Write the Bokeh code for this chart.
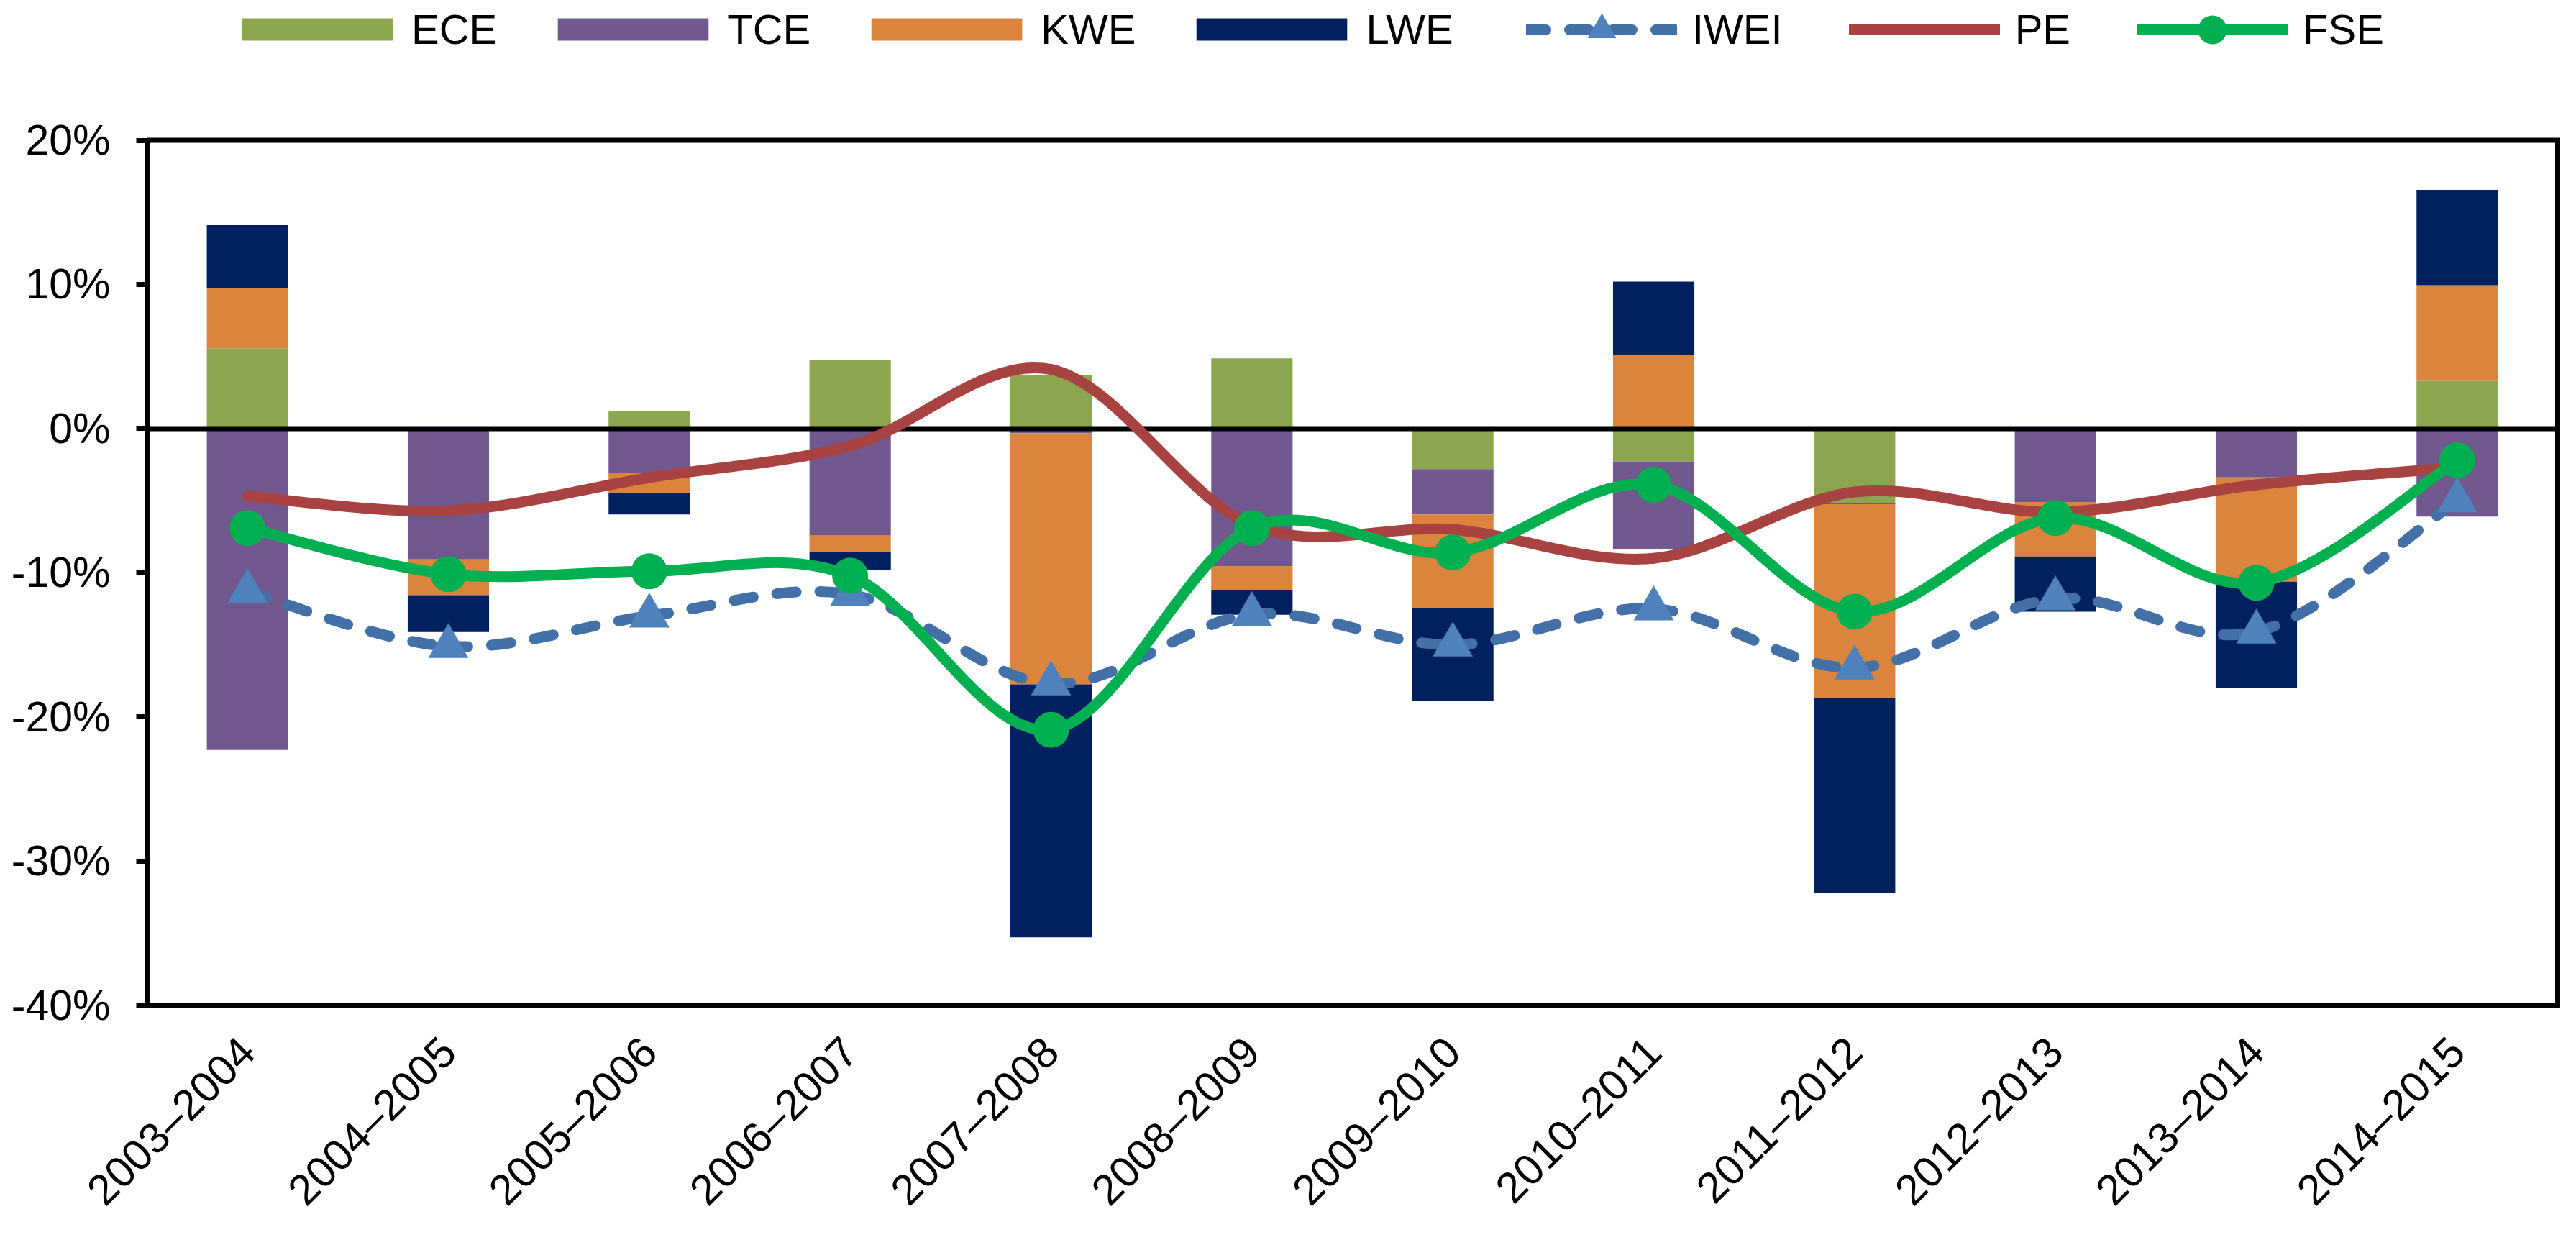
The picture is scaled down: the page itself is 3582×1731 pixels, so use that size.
import numpy as np
from math import pi
from bokeh.plotting import figure
from bokeh.models import (ColumnDataSource, Range1d, FixedTicker, PrintfTickFormatter,
                          Legend, LegendItem)
from bokeh.embed import file_html
from bokeh.resources import INLINE

# data (percent)
periods = ["2003–2004", "2004–2005", "2005–2006", "2006–2007", "2007–2008", "2008–2009",
           "2009–2010", "2010–2011", "2011–2012", "2012–2013", "2013–2014", "2014–2015"]
ece = [5.57, 0.0, 1.24, 4.75, 3.72, 4.87, -2.81, -2.27, -5.14, 0.0, 0.0, 3.30]
tce = [-22.3, -9.08, -3.10, -7.39, -0.33, -9.54, -3.14, -6.11, -0.10, -5.09, -3.39, -6.11]
kwe = [4.21, -2.48, -1.40, -1.16, -17.42, -1.69, -6.48, 5.08, -13.46, -3.78, -7.23, 6.65]
lwe = [4.34, -2.56, -1.45, -1.24, -17.55, -1.69, -6.44, 5.12, -13.50, -3.83, -7.35, 6.61]
iwei = [-11.3, -15.1, -13.0, -11.5, -17.7, -12.9, -15.0, -12.5, -16.6, -11.8, -14.1, -5.0]
pe = [-4.7, -5.7, -3.4, -1.2, 4.1, -6.7, -7.0, -9.0, -4.4, -5.8, -3.9, -2.7]
fse = [-6.9, -10.1, -9.9, -10.2, -20.9, -6.9, -8.6, -3.9, -12.7, -6.2, -10.7, -2.2]
y_ticks = [-40, -30, -20, -10, 0, 10, 20]

xs = np.arange(1, len(periods) + 1)
FONT = "Liberation Sans"

# layout in pixels: the plot box is 3352 x 1205, the legend sits in the frame above it
W, H = 3566, 1715
box_left, box_right, box_top, box_bottom = 204, 3556, 195, 1400
pad = 5
x_lo, x_hi = 0.5, len(periods) + 0.5
y_lo, y_hi = y_ticks[0], y_ticks[-1]
ppx = (box_right - box_left) / (x_hi - x_lo)
ppy = (box_bottom - box_top) / (y_hi - y_lo)

p = figure(width=W, height=H,
           x_range=Range1d(x_lo, x_hi + pad / ppx),
           y_range=Range1d(y_lo - pad / ppy, y_hi + box_top / ppy),
           output_backend="svg", toolbar_location=None,
           min_border_left=box_left, min_border_right=W - box_right - pad,
           min_border_top=0, min_border_bottom=H - box_bottom - pad)
p.outline_line_color = None
p.xgrid.visible = False
p.ygrid.visible = False
p.background_fill_color = "white"
p.border_fill_color = "white"

# stacked bars, positives and negatives stacked separately (like Excel)
pos = np.zeros(len(xs))
neg = np.zeros(len(xs))
bar_items = []
for name, vals, color in [("ECE", ece, "#8BA64E"), ("TCE", tce, "#71588F"),
                          ("KWE", kwe, "#DB843D"), ("LWE", lwe, "#00205F")]:
    v = np.array(vals)
    bottom = np.where(v >= 0, pos, neg)
    top = bottom + v
    pos = np.where(v >= 0, top, pos)
    neg = np.where(v < 0, top, neg)
    src = ColumnDataSource(dict(x=xs, top=top, bottom=bottom))
    r = p.vbar(x="x", width=0.405, top="top", bottom="bottom", source=src,
               fill_color=color, line_color=None)
    bar_items.append(LegendItem(label=name, renderers=[r]))

# plot area border (top, right, bottom); the y axis gives the left side
p.line([x_lo, x_hi, x_hi, x_lo], [y_hi, y_hi, y_lo, y_lo], line_color="black",
       line_width=7, line_join="miter")
p.line([x_lo, x_hi], [0, 0], line_color="black", line_width=7)


def smooth(vals):
    # bezier control points through the data points (excel-like smoothing)
    y = np.array(vals, float)
    x = xs.astype(float)
    xp = np.r_[x[0], x, x[-1]]
    yp = np.r_[y[0], y, y[-1]]
    i = np.arange(len(y) - 1)
    return ColumnDataSource(dict(
        x0=x[:-1], y0=y[:-1], x1=x[1:], y1=y[1:],
        cx0=x[:-1] + (xp[i + 2] - xp[i]) / 6, cy0=y[:-1] + (yp[i + 2] - yp[i]) / 6,
        cx1=x[1:] - (xp[i + 3] - xp[i + 1]) / 6, cy1=y[1:] - (yp[i + 3] - yp[i + 1]) / 6))


bz = dict(x0="x0", y0="y0", x1="x1", y1="y1", cx0="cx0", cy0="cy0", cx1="cx1", cy1="cy1")

iwei_line = p.bezier(source=smooth(iwei), line_color="#4470A8", line_width=15,
                     line_dash="27 33", line_cap="round", **bz)
iwei_pts = p.scatter(xs, iwei, marker="triangle", size=56, fill_color="#4F81BD", line_color=None)

pe_line = p.bezier(source=smooth(pe), line_color="#A94341", line_width=15, line_cap="round", **bz)

fse_line = p.bezier(source=smooth(fse), line_color="#00B050", line_width=15, line_cap="round", **bz)
fse_pts = p.scatter(xs, fse, marker="circle", size=50, fill_color="#00B050", line_color=None)

# axes
p.yaxis.ticker = FixedTicker(ticks=y_ticks)
p.yaxis.bounds = (y_lo, y_hi)
p.yaxis.formatter = PrintfTickFormatter(format="%d%%")
p.yaxis.axis_line_width = 7
p.yaxis.major_tick_line_width = 7
p.yaxis.major_tick_out = 15
p.yaxis.major_tick_in = 0
p.yaxis.minor_tick_line_color = None
p.yaxis.major_label_standoff = 36
p.yaxis.major_label_text_font = FONT
p.yaxis.major_label_text_font_size = "59px"
p.yaxis.major_label_text_color = "black"

p.xaxis.ticker = FixedTicker(ticks=list(xs))
p.xaxis.major_label_overrides = {int(k): lab for k, lab in zip(xs, periods)}
p.xaxis.major_label_orientation = pi / 4
p.xaxis.axis_line_color = None
p.xaxis.major_tick_line_color = None
p.xaxis.minor_tick_line_color = None
p.xaxis.major_tick_out = 0
p.xaxis.major_label_standoff = 50
p.xaxis.major_label_text_font = FONT
p.xaxis.major_label_text_font_size = "60px"
p.xaxis.major_label_text_color = "black"

# legends: bars and lines need different glyph boxes, so two legends on one row
common = dict(orientation="horizontal", padding=0, margin=0, border_line_color=None,
              background_fill_alpha=0, label_text_font=FONT, label_text_font_size="58px",
              label_text_color="black")
frame_bottom = box_bottom + pad
leg_mid = 43.5
leg1 = Legend(items=bar_items, glyph_width=262, glyph_height=39, label_standoff=0,
              spacing=58, location=(106, frame_bottom - leg_mid - 33.5), **common)
leg2 = Legend(items=[LegendItem(label="IWEI", renderers=[iwei_line, iwei_pts]),
                     LegendItem(label="PE", renderers=[pe_line]),
                     LegendItem(label="FSE", renderers=[fse_line, fse_pts])],
              glyph_width=210, glyph_height=100, label_standoff=21, spacing=92,
              location=(1918, frame_bottom - leg_mid - 50), **common)
p.add_layout(leg1)
p.add_layout(leg2)

open("out.html", "w").write(file_html(p, INLINE))
